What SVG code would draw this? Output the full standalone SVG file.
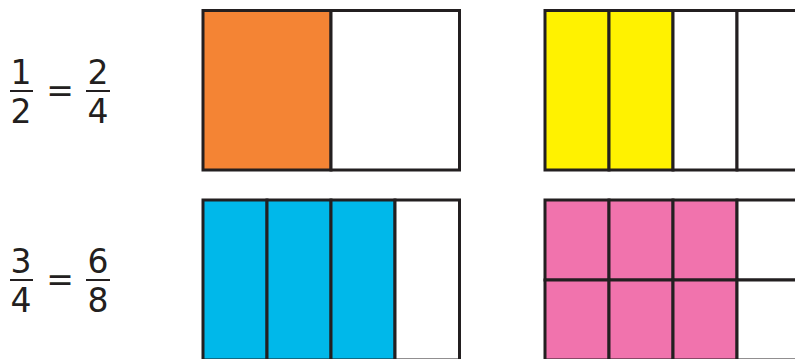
<svg xmlns="http://www.w3.org/2000/svg" width="795" height="359" viewBox="0 0 795 359">
<style>
.t{font-family:"DejaVu Sans","Liberation Sans",sans-serif;font-size:33px;fill:#231f20;text-anchor:middle}
.bar{stroke:#231f20;stroke-width:2}
.c{stroke:#231f20;stroke-width:3}
.o{fill:#f48434}.y{fill:#fff200}.b{fill:#00b8ea}.p{fill:#f173ad}.w{fill:#ffffff}
</style>
<rect width="795" height="359" fill="#ffffff"/>
<g id="eq1">
<text class="t" x="21" y="84">1</text>
<line class="bar" x1="10" y1="91" x2="33" y2="91"/>
<text class="t" x="21" y="123">2</text>
<text class="t" x="60" y="102">=</text>
<text class="t" x="98" y="84">2</text>
<line class="bar" x1="86" y1="91" x2="110" y2="91"/>
<text class="t" x="98" y="123">4</text>
</g>
<g id="eq2">
<text class="t" x="21" y="273">3</text>
<line class="bar" x1="10" y1="280" x2="33" y2="280"/>
<text class="t" x="21" y="312">4</text>
<text class="t" x="60" y="291">=</text>
<text class="t" x="98" y="273">6</text>
<line class="bar" x1="86" y1="280" x2="110" y2="280"/>
<text class="t" x="98" y="312">8</text>
</g>
<g id="halves">
<rect class="c o" x="203" y="10.5" width="128" height="159.5"/>
<rect class="c w" x="331" y="10.5" width="128.5" height="159.5"/>
</g>
<g id="quarters">
<rect class="c y" x="545" y="10.5" width="64" height="159.5"/>
<rect class="c y" x="609" y="10.5" width="64" height="159.5"/>
<rect class="c w" x="673" y="10.5" width="64" height="159.5"/>
<rect class="c w" x="737" y="10.5" width="64" height="159.5"/>
</g>
<g id="fourths">
<rect class="c b" x="203" y="200" width="64" height="160"/>
<rect class="c b" x="267" y="200" width="64" height="160"/>
<rect class="c b" x="331" y="200" width="64" height="160"/>
<rect class="c w" x="395" y="200" width="64.5" height="160"/>
</g>
<g id="eighths">
<rect class="c p" x="545" y="200" width="64" height="80"/>
<rect class="c p" x="609" y="200" width="64" height="80"/>
<rect class="c p" x="673" y="200" width="64" height="80"/>
<rect class="c w" x="737" y="200" width="64" height="80"/>
<rect class="c p" x="545" y="280" width="64" height="80"/>
<rect class="c p" x="609" y="280" width="64" height="80"/>
<rect class="c p" x="673" y="280" width="64" height="80"/>
<rect class="c w" x="737" y="280" width="64" height="80"/>
</g>
</svg>
